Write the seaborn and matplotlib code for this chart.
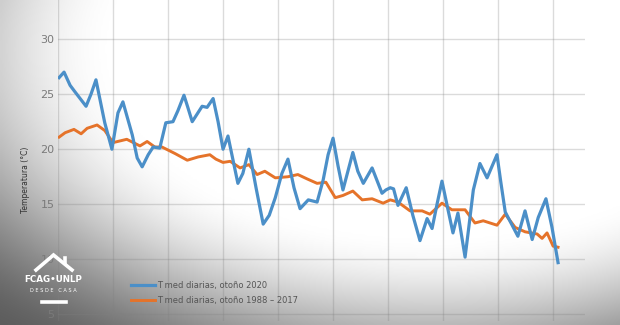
import numpy as np
import pandas as pd
import matplotlib
matplotlib.use("Agg")
import matplotlib.pyplot as plt
import seaborn as sns

# ---- data (day index within autumn, temperature degC) ----
days_2020 = [0.2, 1.1, 2.2, 3.1, 5.1, 6.0, 6.9, 8.5, 9.8, 10.9, 11.8, 13.5, 14.4, 15.3,
             16.4, 17.3, 18.5, 19.6, 20.9, 21.8, 22.9, 23.6, 24.4, 26.2, 27.1, 28.2,
             29.1, 30.0, 30.9, 32.7, 33.6, 34.7, 36.0, 37.3, 38.4, 39.5, 40.7, 41.8,
             42.9, 44.0, 45.5, 47.1, 48.2, 49.1, 50.0, 50.9, 51.8, 52.7, 53.6, 54.5,
             55.5, 57.1, 58.9, 59.6, 60.4, 61.0, 61.8, 63.3, 64.5, 65.8, 67.1, 68.0,
             68.9, 69.8, 70.9, 71.8, 72.7, 74.0, 74.7, 75.5, 76.7, 78.0, 79.8, 80.5,
             81.3, 83.6, 84.9, 86.2, 87.3, 88.7, 89.8, 90.9]
temp_2020 = [26.5, 27.0, 25.8, 25.2, 23.9, 25.0, 26.3, 22.4, 20.0, 23.3, 24.3, 21.3, 19.2, 18.4,
             19.5, 20.2, 20.1, 22.4, 22.5, 23.5, 24.9, 23.8, 22.5, 23.9, 23.8, 24.6,
             22.5, 20.0, 21.2, 16.9, 17.8, 20.0, 16.5, 13.2, 14.0, 15.6, 17.8, 19.1,
             16.5, 14.6, 15.4, 15.2, 17.2, 19.5, 21.0, 18.5, 16.3, 18.0, 19.7, 18.0,
             16.9, 18.3, 16.0, 16.3, 16.5, 16.4, 14.9, 16.5, 14.0, 11.7, 13.7, 12.8,
             15.0, 17.1, 14.5, 12.4, 14.2, 10.2, 13.0, 16.3, 18.7, 17.4, 19.5, 17.0,
             14.3, 12.1, 14.4, 11.8, 13.8, 15.5, 12.9, 9.7]

days_clim = [0.2, 1.3, 2.9, 4.2, 5.3, 7.1, 8.5, 10.0, 12.5, 14.9, 16.2, 17.6, 18.9, 21.3,
             23.5, 25.5, 27.6, 28.7, 30.0, 31.3, 33.1, 34.7, 36.2, 37.6, 39.5, 41.8,
             43.6, 45.3, 47.1, 48.7, 50.4, 51.8, 53.6, 55.3, 57.1, 59.1, 60.4, 61.8,
             64.0, 66.2, 67.6, 69.8, 71.6, 74.0, 75.8, 77.3, 79.8, 81.3, 83.1, 84.9,
             87.1, 88.0, 88.9, 90.0, 90.9]
temp_clim = [21.1, 21.5, 21.8, 21.4, 21.9, 22.2, 21.7, 20.6, 20.9, 20.3, 20.7, 20.2, 20.2, 19.6,
             19.0, 19.3, 19.5, 19.1, 18.8, 18.9, 18.3, 18.6, 17.7, 18.0, 17.4, 17.5,
             17.7, 17.3, 16.9, 17.0, 15.6, 15.8, 16.2, 15.4, 15.5, 15.1, 15.4, 15.2,
             14.4, 14.4, 14.1, 15.1, 14.5, 14.5, 13.3, 13.5, 13.1, 14.1, 12.9, 12.5,
             12.3, 11.9, 12.4, 11.2, 11.1]

label_2020 = "T med diarias, otoño 2020"
label_clim = "T med diarias, otoño 1988 – 2017"
y_ticks = [5, 10, 15, 20, 25, 30]
x_grid = [0, 10, 20, 30, 40, 50, 60, 70, 80, 90]

W, H = 620, 325
fig = plt.figure(figsize=(W / 100, H / 100), dpi=100)

# ---- vignette background ----
bg = fig.add_axes([0, 0, 1, 1], zorder=-10)
X, Y = np.meshgrid(np.linspace(0, 1, 310), np.linspace(0, 1, 163))
d = np.sqrt(((X - 0.7) / 0.85) ** 2 + ((Y - 0.15) / 0.95) ** 2)
t = np.clip((d - 0.6) / 0.65, 0, 1)
s = t * t * (3 - 2 * t)
bright = 1 - 0.64 * s
bg.imshow(bright, cmap="gray", vmin=0, vmax=1, aspect="auto",
          extent=[0, 1, 1, 0], interpolation="bicubic")
bg.set_xlim(0, 1)
bg.set_ylim(1, 0)
bg.axis("off")

# ---- main axes ----
ax = fig.add_axes([58 / W, 4 / H, (585 - 58) / W, (H - 4) / H])
ax.set_facecolor("none")
df1 = pd.DataFrame({"day": days_2020, "temp": temp_2020})
df2 = pd.DataFrame({"day": days_clim, "temp": temp_clim})
sns.lineplot(data=df1, x="day", y="temp", ax=ax, color="#4b8fc8", lw=2.3,
             label=label_2020, zorder=4)
sns.lineplot(data=df2, x="day", y="temp", ax=ax, color="#e5732a", lw=2.1,
             label=label_clim, zorder=3)

ax.set_xlim(0, 95.8)
ax.set_ylim(4.4, 33.55)
ax.set_yticks(y_ticks)
ax.set_xticks(x_grid)
ax.tick_params(axis="x", length=0, labelbottom=False)
ax.tick_params(axis="y", length=0, labelsize=8, labelcolor="#7a7a7a", pad=2.5)
ax.grid(True, color="#808080", alpha=0.28, lw=1.0)
for sp in ax.spines.values():
    sp.set_visible(False)
ax.set_xlabel("")
ax.set_ylabel("")

leg = ax.legend(loc="lower left", bbox_to_anchor=(70 / 527, 0.04), frameon=False,
                fontsize=6.0, handlelength=2.8, handletextpad=0.25, labelspacing=0.75,
                borderaxespad=0)
for txt in leg.get_texts():
    txt.set_color("#555555")

fig.text(26 / W, 1 - 180 / H, "Temperatura (°C)", rotation=90, ha="center",
         va="center", fontsize=5.5, color="#333333")

# ---- logo ----
def fx(px):
    return px / W

def fy(py):
    return 1 - py / H

fig.add_artist(plt.Line2D([fx(36), fx(53.5), fx(72)], [fy(270), fy(255), fy(270)],
                          color="white", lw=2.6, solid_joinstyle="miter",
                          transform=fig.transFigure))
fig.add_artist(plt.Line2D([fx(65), fx(65)], [fy(258), fy(263)], color="white", lw=2.6,
                          transform=fig.transFigure))
fig.text(fx(53.5), fy(279.5), "FCAG•UNLP", ha="center", va="center", fontsize=6.3,
         color="white", fontweight="bold")
fig.text(fx(53.5), fy(291), "D E S D E   C A S A", ha="center", va="center",
         fontsize=3.6, color="white")
fig.add_artist(plt.Line2D([fx(42), fx(66)], [fy(302), fy(302)], color="white", lw=2.6,
                          transform=fig.transFigure))

fig.savefig("out.png", dpi=100)
